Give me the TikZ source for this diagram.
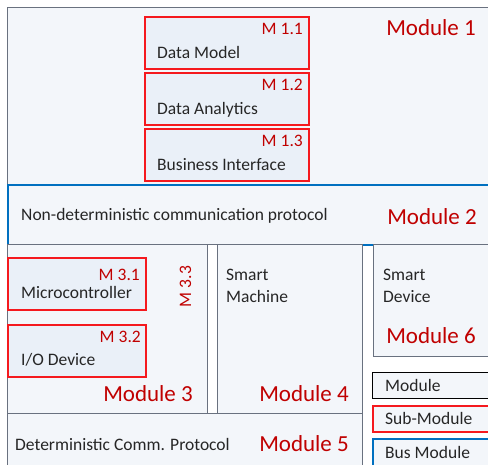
\documentclass[tikz,border=0pt]{standalone}
\usepackage{fontspec}
\setmainfont{Carlito}

\definecolor{modfill}{RGB}{243,246,250}
\definecolor{subfill}{RGB}{234,240,248}
\definecolor{modgray}{RGB}{105,113,127}
\definecolor{subred}{RGB}{245,25,30}
\definecolor{busblue}{RGB}{0,112,192}
\definecolor{labred}{RGB}{192,0,0}
\definecolor{txtdark}{RGB}{38,38,38}

\begin{document}
\begin{tikzpicture}[x=1pt, y=-1pt,
    box/.style={
        draw=modgray,
        fill=modfill,
        line width=1.3pt,
        inner sep=0pt,
        anchor=north west},
    sub/.style={box, draw=subred, fill=subfill, line width=1.5pt},
    bus/.style={box, draw=busblue, line width=1.8pt},
    gapbox/.style={box, fill=white},
    txt/.style={inner sep=0pt, text=txtdark,
        font=\fontsize{17.5}{22}\selectfont},
    mlab/.style={txt, text=labred},
    modlab/.style={txt, text=labred,
        font=\fontsize{23}{28}\selectfont}]

    \clip (0,0) rectangle (488,464);
    \fill[white] (0,0) rectangle (488,464);

    % modules
    \node[box, minimum width=495pt, minimum height=177pt] (m1) at (7,7) {};
    \node[bus, minimum width=495pt, minimum height=60pt] (m2) at (7,184) {};
    \node[box, minimum width=200pt, minimum height=169pt] (m3) at (7,244) {};
    \node[gapbox, minimum width=10pt, minimum height=169pt] (m33box) at (207,244) {};
    \node[box, minimum width=145pt, minimum height=169pt] (m4) at (217,244) {};
    \node[box, minimum width=355pt, minimum height=60pt] (m5) at (7,413) {};
    \node[box, minimum width=130pt, minimum height=112pt] (m6) at (373,244) {};

    % sub-modules
    \node[sub, minimum width=164pt, minimum height=52pt] (m11) at (144,16) {};
    \node[sub, minimum width=164pt, minimum height=52pt] (m12) at (144,72) {};
    \node[sub, minimum width=164pt, minimum height=52pt] (m13) at (144,128) {};
    \node[sub, minimum width=138pt, minimum height=52pt] (m31) at (7,257) {};
    \node[sub, minimum width=138pt, minimum height=52pt] (m32) at (7,324) {};

    % legend
    \node[box, draw=black, minimum width=130pt, minimum height=26pt] (lmod) at (372,372) {};
    \node[sub, fill=modfill, minimum width=130pt, minimum height=26pt] (lsub) at (372,405) {};
    \node[bus, minimum width=130pt, minimum height=40pt] (lbus) at (372,438) {};

    % texts
    \node[mlab, anchor=base east] (t11) at (303,34.5) {M 1.1};
    \node[txt, anchor=base west] (n11) at (157,58) {Data Model};
    \node[mlab, anchor=base east] (t12) at (303,90.5) {M 1.2};
    \node[txt, anchor=base west] (n12) at (157,114) {Data Analytics};
    \node[mlab, anchor=base east] (t13) at (303,146.5) {M 1.3};
    \node[txt, anchor=base west] (n13) at (157,170) {Business Interface};
    \node[modlab, anchor=base east] (l1) at (476,35) {Module 1};

    \node[txt, anchor=base west] (n2) at (21,220) {Non-deterministic communication protocol};
    \node[modlab, anchor=base east] (l2) at (477,224) {Module 2};

    \node[mlab, anchor=base east] (t31) at (140,280) {M 3.1};
    \node[txt, anchor=base west] (n31) at (21,298) {Microcontroller};
    \node[mlab, anchor=base east] (t32) at (141,342) {M 3.2};
    \node[txt, anchor=base west] (n32) at (21,365) {I/O Device};
    \node[mlab, rotate=90, anchor=base] (t33) at (191,286.5) {M 3.3};
    \node[modlab, anchor=base east] (l3) at (193,401) {Module 3};

    \node[txt, anchor=base west] (n4a) at (226,280) {Smart};
    \node[txt, anchor=base west] (n4b) at (226,302) {Machine};
    \node[modlab, anchor=base east] (l4) at (349,401) {Module 4};

    \node[txt, anchor=base west] (n5) at (15,450) {Deterministic Comm. Protocol};
    \node[modlab, anchor=base east] (l5) at (349,451) {Module 5};

    \node[txt, anchor=base west] (n6a) at (383,280) {Smart};
    \node[txt, anchor=base west] (n6b) at (383,302) {Device};
    \node[modlab, anchor=base east] (l6) at (476,343) {Module 6};

    \node[txt, anchor=base west] (tmod) at (385,391) {Module};
    \node[txt, anchor=base west] (tsub) at (385,424) {Sub-Module};
    \node[txt, anchor=base west] (tbus) at (385,458) {Bus Module};
\end{tikzpicture}
\end{document}
